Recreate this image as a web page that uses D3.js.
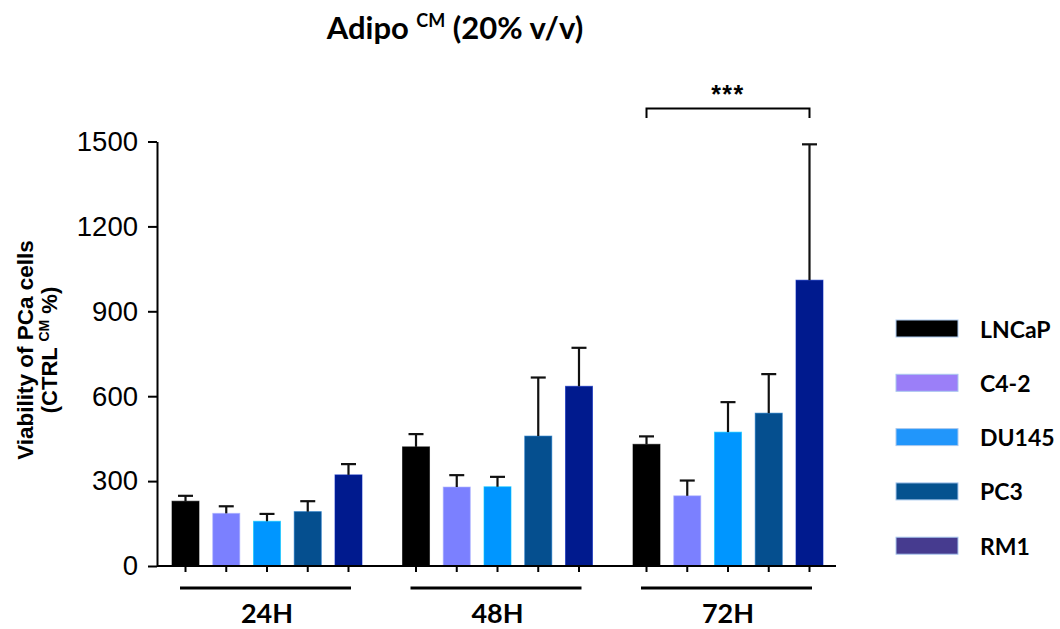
<!DOCTYPE html>
<html>
<head>
<meta charset="utf-8">
<script src="https://cdn.jsdelivr.net/npm/d3@7"></script>
<style>
  html, body { margin: 0; padding: 0; background: #fff; }
  svg { display: block; }
</style>
</head>
<body>
<svg id="chart" width="1060" height="629"></svg>
<script>
// Time points and cell lines
const groups = ["24H", "48H", "72H"];
const series = ["LNCaP", "C4-2", "DU145", "PC3", "RM1"];

// Mean viability (% of control CM) per cell line, one value per time point
const meanLNCaP = [229, 421, 430];
const meanC42   = [186, 279, 248];
const meanDU145 = [158, 280, 473];
const meanPC3   = [192, 459, 540];
const meanRM1   = [322, 635, 1010];

// Upper error (SD) per cell line
const errLNCaP = [19, 45, 28];
const errC42   = [25, 42, 54];
const errDU145 = [26, 35, 106];
const errPC3   = [37, 207, 138];
const errRM1   = [38, 136, 480];

const yTicks = [0, 300, 600, 900, 1200, 1500];

const barColors    = ["#000000", "#7b80ff", "#0096ff", "#054f8f", "#001a8e"];
const legendColors = ["#000000", "#9b7ff8", "#2196fb", "#05528f", "#463b8f"];

const means = [meanLNCaP, meanC42, meanDU145, meanPC3, meanRM1];
const errs  = [errLNCaP, errC42, errDU145, errPC3, errRM1];

const rows = [];
series.forEach((s, si) => {
  groups.forEach((g, gi) => {
    rows.push({ series: s, si, group: g, value: means[si][gi], err: errs[si][gi] });
  });
});

const svg = d3.select("#chart");
const boldFont = "Lato, 'Open Sans', sans-serif";
const axisFont = "'Liberation Sans', Arial, sans-serif";

const y = d3.scaleLinear().domain([0, 1500]).range([566, 141.5]);
const xG = d3.scaleBand().domain(groups).range([172, 823]).paddingInner(0.1757).paddingOuter(0);
const xS = d3.scaleBand().domain(series).range([0, xG.bandwidth()]).paddingInner(0.337).paddingOuter(0);
const color = d3.scaleOrdinal().domain(series).range(barColors);
const legendColor = d3.scaleOrdinal().domain(series).range(legendColors);

const cx = d => xG(d.group) + xS(d.series) + xS.bandwidth() / 2;

// Title
const title = svg.append("text")
  .attr("x", 455).attr("y", 39)
  .attr("text-anchor", "middle")
  .attr("font-family", boldFont).attr("font-weight", 700)
  .attr("font-size", 31).attr("fill", "#000");
title.append("tspan").text("Adipo ");
title.append("tspan").attr("font-size", 18).attr("dy", -12).text("CM");
title.append("tspan").attr("dy", 12).text(" (20% v/v)");

// Y axis
const yAxis = svg.append("g")
  .attr("transform", "translate(157,0)")
  .call(d3.axisLeft(y).tickValues(yTicks).tickSize(9).tickSizeOuter(0).tickPadding(10).tickFormat(d3.format("d")));
yAxis.select(".domain").attr("stroke", "#000").attr("stroke-width", 2);
yAxis.selectAll(".tick line").attr("stroke", "#000").attr("stroke-width", 2);
yAxis.selectAll(".tick text")
  .attr("font-family", axisFont).attr("font-size", 27.5).attr("fill", "#000");

// Y axis label (two lines, rotated)
svg.append("text")
  .attr("transform", "translate(33,350) rotate(-90)")
  .attr("text-anchor", "middle")
  .attr("font-family", axisFont).attr("font-weight", 700)
  .attr("font-size", 22.5).attr("fill", "#000")
  .text("Viability of PCa cells");
const yl2 = svg.append("text")
  .attr("transform", "translate(57,350) rotate(-90)")
  .attr("text-anchor", "middle")
  .attr("font-family", axisFont).attr("font-weight", 700)
  .attr("font-size", 22).attr("fill", "#000");
yl2.append("tspan").text("(CTRL ");
yl2.append("tspan").attr("font-size", 14).attr("dy", -8).text("CM");
yl2.append("tspan").attr("dy", 8).text(" %)");

// Bars
svg.append("g").selectAll("rect").data(rows).join("rect")
  .attr("x", d => xG(d.group) + xS(d.series))
  .attr("y", d => y(d.value))
  .attr("width", xS.bandwidth())
  .attr("height", d => y(0) - y(d.value))
  .attr("fill", d => color(d.series))
  .attr("stroke", d => d3.color(color(d.series)).brighter(0.8))
  .attr("stroke-opacity", 0.6)
  .attr("stroke-width", 1);

// Error bars (upper only)
const eb = svg.append("g").attr("stroke", "#111").attr("stroke-width", 2.2);
eb.selectAll("line.v").data(rows).join("line").attr("class", "v")
  .attr("x1", cx).attr("x2", cx)
  .attr("y1", d => y(d.value)).attr("y2", d => y(d.value + d.err));
eb.selectAll("line.c").data(rows).join("line").attr("class", "c")
  .attr("x1", d => cx(d) - 7.5).attr("x2", d => cx(d) + 7.5)
  .attr("y1", d => y(d.value + d.err)).attr("y2", d => y(d.value + d.err));

// X axis baseline with a tick under each bar
svg.append("line")
  .attr("x1", 157).attr("x2", 836).attr("y1", y(0)).attr("y2", y(0))
  .attr("stroke", "#000").attr("stroke-width", 2);
svg.append("g").selectAll("line").data(rows).join("line")
  .attr("x1", cx).attr("x2", cx)
  .attr("y1", y(0)).attr("y2", y(0) + 6)
  .attr("stroke", "#000").attr("stroke-width", 2);

// Group underlines and labels
const gl = svg.append("g").selectAll("g").data(groups).join("g");
gl.append("line")
  .attr("x1", g => xG(g) + 8).attr("x2", g => xG(g) + xG.bandwidth() - 11)
  .attr("y1", 588).attr("y2", 588)
  .attr("stroke", "#000").attr("stroke-width", 3);
gl.append("text")
  .attr("x", g => xG(g) + xG.bandwidth() / 2).attr("y", 623)
  .attr("text-anchor", "middle")
  .attr("font-family", boldFont).attr("font-weight", 700)
  .attr("font-size", 27).attr("fill", "#000")
  .text(g => g);

// Significance bracket: LNCaP vs RM1 at 72H
const bx1 = xG("72H") + xS("LNCaP") + xS.bandwidth() / 2;
const bx2 = xG("72H") + xS("RM1") + xS.bandwidth() / 2;
svg.append("path")
  .attr("d", `M${bx1},118 V108.5 H${bx2} V118`)
  .attr("fill", "none").attr("stroke", "#000").attr("stroke-width", 2);
svg.append("text")
  .attr("x", (bx1 + bx2) / 2).attr("y", 103)
  .attr("text-anchor", "middle")
  .attr("font-family", axisFont).attr("font-weight", 700)
  .attr("font-size", 25).attr("letter-spacing", 1.5).attr("fill", "#000")
  .text("***");

// Legend
const lg = svg.append("g").selectAll("g").data(series).join("g")
  .attr("transform", (d, i) => `translate(896,${320 + i * 54.3})`);
lg.append("rect")
  .attr("width", 62).attr("height", 17)
  .attr("fill", d => legendColor(d))
  .attr("stroke", "#a9c8ee").attr("stroke-width", 1);
lg.append("text")
  .attr("x", 84).attr("y", 17.5)
  .attr("font-family", boldFont).attr("font-weight", 700)
  .attr("font-size", 23).attr("fill", "#000")
  .text(d => d);
</script>
</body>
</html>
